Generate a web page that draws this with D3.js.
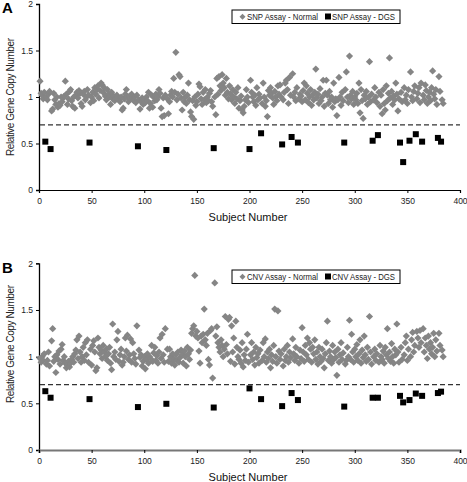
<!DOCTYPE html>
<html><head><meta charset="utf-8">
<script src="https://cdn.jsdelivr.net/npm/d3@7"></script>
<style>body{margin:0;background:#fff}svg{display:block;font-family:Arial,"Liberation Sans",sans-serif}</style>
</head><body>
<script>
// Subject numbers of the DGS samples
const dgsSubjects = [6, 11, 48, 94, 121, 166, 200, 211, 231, 240, 246, 290, 317, 322, 343, 346, 352, 358, 364, 379, 382];
const snpDGS = [0.52, 0.44, 0.51, 0.47, 0.43, 0.45, 0.44, 0.61, 0.49, 0.57, 0.51, 0.51, 0.53, 0.59, 0.51, 0.30, 0.53, 0.60, 0.52, 0.56, 0.52];
const cnvDGS = [0.63, 0.56, 0.545, 0.46, 0.495, 0.455, 0.66, 0.545, 0.47, 0.61, 0.535, 0.465, 0.56, 0.56, 0.58, 0.51, 0.535, 0.605, 0.58, 0.61, 0.625];
// Normal samples, subject 1..384 (null = DGS subject)
const snpNormal = [
1.17,1.04,1.02,0.98,1.05,null,1.00,0.97,1.03,1.06,null,0.85,0.87,1.04,0.97,0.92,1.00,0.89,0.93,0.91,
1.00,0.95,0.99,1.01,1.17,1.03,0.92,0.98,1.06,1.08,0.96,0.90,1.00,0.88,1.02,1.05,0.99,1.07,1.04,0.93,
0.90,1.03,1.06,0.97,1.00,1.08,1.02,null,0.94,1.00,1.05,0.96,1.10,1.03,1.08,1.12,0.99,1.07,1.15,1.13,
1.05,1.10,1.01,0.97,1.08,1.03,1.00,0.92,1.05,0.98,1.01,0.96,0.99,1.02,1.00,0.97,0.95,1.00,0.86,0.88,
0.98,1.03,1.08,1.00,0.95,1.01,0.98,1.03,0.99,0.96,1.00,0.94,1.02,null,0.97,0.87,0.95,0.99,0.92,0.97,
0.94,1.00,0.96,1.05,0.88,0.93,1.02,0.89,1.00,0.96,1.03,0.97,1.00,1.08,1.04,0.88,0.79,0.99,0.80,1.02,
null,0.98,0.82,0.95,1.02,1.06,1.00,1.20,1.05,1.48,0.97,1.03,1.24,1.22,0.99,0.86,1.05,0.95,1.00,0.93,
1.02,1.15,0.97,0.84,0.79,0.96,0.76,1.00,0.91,0.95,1.03,1.14,1.11,0.98,0.92,1.05,0.97,1.08,0.94,1.00,
0.96,1.04,1.07,0.95,0.90,null,1.00,0.81,1.20,1.03,1.22,1.12,1.07,1.24,1.15,1.10,1.02,1.20,1.05,0.98,
1.12,1.03,0.97,1.08,1.00,0.93,1.05,0.98,1.10,0.88,0.96,1.01,0.86,0.83,0.90,0.97,1.08,1.00,0.94,null,
1.18,1.05,1.00,0.95,1.02,0.91,1.10,0.97,1.03,0.99,null,0.93,1.15,1.00,0.90,0.96,0.79,1.07,1.02,1.10,
1.04,0.99,0.92,1.06,1.00,0.96,1.12,1.03,1.13,1.00,null,0.97,1.05,1.15,1.18,1.08,0.93,1.21,1.02,null,
1.25,1.00,1.05,0.96,1.10,null,0.98,1.03,1.01,0.95,1.07,1.15,0.97,1.12,1.04,0.94,1.00,1.08,0.91,1.02,
0.97,1.05,1.30,0.99,1.03,0.93,1.09,0.96,1.00,1.18,0.90,1.04,1.18,1.02,0.93,1.06,0.97,1.00,0.89,1.15,
0.95,0.98,0.80,0.97,1.21,1.00,0.91,1.05,0.96,null,1.08,1.27,1.00,0.94,1.44,1.02,0.98,1.06,0.92,1.00,
0.97,1.04,0.93,1.15,0.83,1.08,0.96,0.77,1.02,0.98,1.06,0.92,1.00,1.38,0.95,1.03,null,0.97,1.10,1.00,
0.94,null,1.05,0.90,1.02,0.82,1.08,0.93,0.86,1.12,0.96,1.04,1.42,0.99,1.06,0.92,1.01,0.97,1.15,1.03,
0.85,0.98,null,1.05,0.95,null,1.10,0.97,1.02,0.93,1.08,null,1.27,1.00,0.96,1.06,1.12,null,0.98,1.04,
1.10,0.94,1.15,null,1.02,0.97,1.13,1.07,0.93,1.00,1.05,0.96,1.10,1.28,1.03,0.98,1.08,0.92,null,1.22,1.06,null,0.97,0.93];
const cnvNormal = [
0.98,0.94,1.00,0.96,1.03,null,0.92,0.96,1.05,0.90,null,1.17,1.30,0.95,1.00,0.83,1.02,0.97,1.06,0.92,
1.08,1.13,0.96,1.00,0.93,0.88,0.91,0.95,0.89,0.93,0.97,1.00,0.94,1.03,1.07,1.18,0.98,1.22,1.05,0.94,
1.00,1.10,0.96,1.15,1.02,1.18,0.94,null,1.08,0.91,1.12,1.17,1.05,0.85,0.88,1.20,1.10,1.03,1.07,0.98,
1.12,1.05,1.00,1.08,0.96,1.03,1.10,0.93,0.86,1.35,1.00,1.05,0.97,1.18,1.27,0.95,1.02,1.08,0.91,0.94,
1.00,1.20,1.06,1.23,0.97,1.02,1.19,0.94,1.15,1.03,0.98,0.92,1.33,null,1.07,0.99,1.02,0.90,0.95,1.00,
0.87,0.97,1.03,0.93,1.00,0.98,1.12,0.95,1.04,1.10,0.96,1.01,0.93,1.05,1.20,0.98,1.24,1.02,0.94,1.30,
null,1.08,0.95,1.08,1.00,0.93,1.03,0.97,0.91,1.02,0.96,1.05,0.94,0.99,1.07,1.02,0.93,1.06,1.00,0.90,
1.10,1.03,0.97,1.07,1.25,1.30,1.33,1.87,1.22,1.27,1.20,1.06,0.93,1.22,1.15,1.24,1.51,1.18,1.12,1.25,
0.97,0.91,1.28,1.30,0.77,null,1.79,1.22,1.32,1.15,1.10,1.05,1.18,1.12,1.00,1.08,1.43,1.13,1.03,1.40,
1.42,0.95,1.33,1.05,1.20,0.92,1.38,1.10,1.00,0.97,1.07,0.93,1.15,0.89,1.02,0.96,1.08,1.24,0.94,null,
1.02,1.15,0.97,1.05,0.91,1.10,0.99,1.03,0.93,1.07,null,0.96,1.15,1.00,1.19,0.94,1.05,0.98,1.08,0.88,
1.02,0.95,1.12,1.51,1.00,0.93,1.49,1.06,0.97,1.03,null,0.90,1.08,0.96,1.00,1.12,0.94,1.05,0.99,null,
1.19,1.03,0.96,1.10,1.00,null,0.93,1.07,0.98,1.31,1.05,0.95,1.12,1.02,1.20,0.97,1.15,1.08,0.94,1.10,
1.03,1.18,0.97,1.05,0.92,1.10,1.00,0.95,1.08,0.98,0.88,1.03,1.15,1.38,0.96,1.06,1.00,0.93,1.12,0.97,
1.05,0.99,0.80,1.08,0.94,1.02,1.15,0.97,1.04,null,0.92,0.96,1.10,1.00,1.39,0.97,1.24,1.05,0.94,1.08,
1.00,1.13,0.96,1.03,1.18,0.93,1.07,0.99,1.22,1.02,0.95,1.10,0.97,1.43,1.05,0.92,null,1.00,1.08,0.96,
1.03,null,0.94,1.12,1.00,0.97,1.06,0.93,1.10,1.02,1.30,0.98,1.05,0.95,1.14,1.00,0.93,1.08,1.02,1.35,
1.05,0.94,null,1.10,0.97,null,1.02,1.15,1.22,0.96,1.08,null,1.00,1.18,1.26,1.05,1.12,null,1.27,1.20,
1.10,1.28,1.15,null,1.30,1.05,1.20,1.12,0.98,1.22,1.08,1.15,1.03,1.10,1.25,1.00,1.18,1.06,null,1.25,1.12,null,1.07,1.00];
const xTicks = [0, 50, 100, 150, 200, 250, 300, 350, 400];
const yTicks = [0, 0.5, 1, 1.5, 2];
const cutoff = 0.7;

const svg = d3.select("body").append("svg").attr("width", 467).attr("height", 482);

function panel(o) {
  const x = d3.scaleLinear().domain([0, 400]).range([39, 460]);
  const y = d3.scaleLinear().domain([0, 2]).range([o.y0, o.y2]);
  const g = svg.append("g");
  // y axis
  const ya = g.append("g").attr("transform", "translate(39,0)")
    .call(d3.axisLeft(y).tickValues(yTicks).tickFormat(d3.format("")).tickSize(3).tickPadding(3));
  ya.select(".domain").attr("stroke", "#000").attr("stroke-width", 1.3);
  ya.selectAll(".tick line").attr("stroke", "#000");
  ya.selectAll("text").attr("font-size", 8.5).attr("fill", "#222").attr("font-family", "Arial, Liberation Sans, sans-serif");
  // x axis
  const xa = g.append("g").attr("transform", `translate(0,${o.y0})`)
    .call(d3.axisBottom(x).tickValues(xTicks).tickSize(3).tickPadding(5));
  xa.select(".domain").attr("stroke", o.xAxisColor).attr("stroke-width", o.xAxisWidth);
  xa.selectAll(".tick line").attr("stroke", "#000");
  xa.selectAll("text").attr("font-size", 8.5).attr("fill", "#222").attr("font-family", "Arial, Liberation Sans, sans-serif");
  // cutoff
  g.append("line").attr("x1", x(0) + 1).attr("x2", x(400)).attr("y1", y(cutoff)).attr("y2", y(cutoff))
    .attr("stroke", "#333").attr("stroke-width", 1.3).attr("stroke-dasharray", "5,3");
  // normals
  const pts = o.normal.map((v, i) => ({ s: i + 1, v })).filter(d => d.v != null);
  g.append("g").selectAll("path").data(pts).join("path")
    .attr("d", "M0,-3.6L3.6,0L0,3.6L-3.6,0Z")
    .attr("transform", d => `translate(${x(d.s)},${y(d.v)})`)
    .attr("fill", "#858585");
  // DGS
  g.append("g").selectAll("rect").data(dgsSubjects.map((s, i) => ({ s, v: o.dgs[i] }))).join("rect")
    .attr("x", d => x(d.s) - 3).attr("y", d => y(d.v) - 3).attr("width", 6).attr("height", 6)
    .attr("fill", "#000");
  // titles
  g.append("text").attr("x", 2).attr("y", o.labelY).attr("font-size", 15).attr("font-weight", "bold").text(o.label);
  g.append("text").attr("transform", `translate(13.5,${o.yTitleC}) rotate(-90)`).attr("text-anchor", "middle")
    .attr("font-size", 10).attr("fill", "#222").attr("textLength", 118).text("Relative Gene Copy Number");
  g.append("text").attr("x", 248).attr("y", o.y0 + 31).attr("text-anchor", "middle")
    .attr("font-size", 11).attr("fill", "#111").text("Subject Number");
  // legend
  const L = g.append("g").attr("transform", `translate(232,${o.legY})`);
  L.append("rect").attr("width", 168).attr("height", 13.5).attr("fill", "#fff").attr("stroke", "#000").attr("stroke-width", 1);
  L.append("path").attr("d", "M0,-3L3,0L0,3L-3,0Z").attr("transform", "translate(10.5,6.8)").attr("fill", "#858585");
  L.append("text").attr("x", 15).attr("y", 10).attr("font-size", 8.5).attr("fill", "#222")
    .attr("textLength", 71).attr("lengthAdjust", "spacingAndGlyphs").text(o.legN);
  L.append("rect").attr("x", 93).attr("y", 3.5).attr("width", 6).attr("height", 6).attr("fill", "#000");
  L.append("text").attr("x", 100).attr("y", 10).attr("font-size", 8.5).attr("fill", "#222")
    .attr("textLength", 63).attr("lengthAdjust", "spacingAndGlyphs").text(o.legD);
}

panel({ y0: 190, y2: 4, normal: snpNormal, dgs: snpDGS, label: "A", labelY: 13, yTitleC: 97, legY: 10,
  legN: "SNP Assay - Normal", legD: "SNP Assay - DGS", xAxisColor: "#000", xAxisWidth: 1.2 });
panel({ y0: 450, y2: 263.3, normal: cnvNormal, dgs: cnvDGS, label: "B", labelY: 273, yTitleC: 344, legY: 270,
  legN: "CNV Assay - Normal", legD: "CNV Assay - DGS", xAxisColor: "#777", xAxisWidth: 2.2 });
</script>
</body></html>
